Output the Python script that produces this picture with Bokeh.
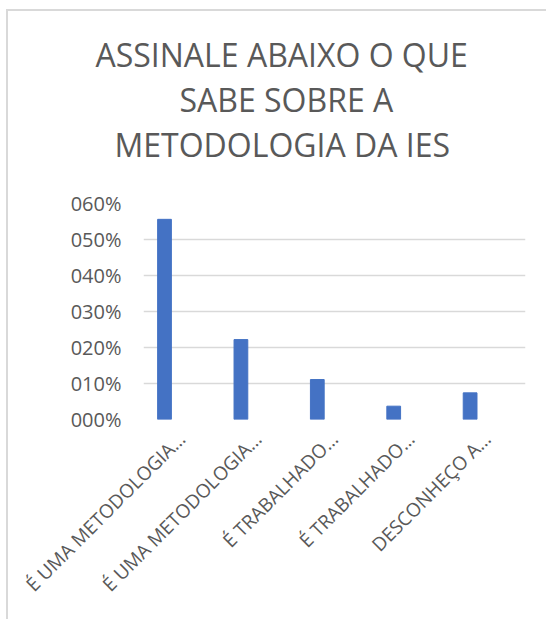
from bokeh.plotting import figure
from bokeh.models import Range1d, FixedTicker, ColumnDataSource, Title
from bokeh.transform import dodge
from bokeh.embed import file_html
from bokeh.resources import INLINE
import math

# ---- data ----
categories = ["É UMA METODOLOGIA…", "É UMA METODOLOGIA…", "É TRABALHADO…",
              "É TRABALHADO…", "DESCONHEÇO A…"]
values = [55.6, 22.2, 11.1, 3.7, 7.4]
y_ticks = [0, 10, 20, 30, 40, 50, 60]
y_tick_labels = ["000%", "010%", "020%", "030%", "040%", "050%", "060%"]
title_lines = ["ASSINALE ABAIXO O QUE", "SABE SOBRE A", "METODOLOGIA  DA IES"]

GRAY_TEXT = "#595959"
GRID = "#d9d9d9"
BAR = "#4472C4"

positions = list(range(len(categories)))
src = ColumnDataSource(dict(x=positions, top=values))

p = figure(width=540, height=610,
           x_range=Range1d(-0.5, len(categories) - 0.5),
           y_range=Range1d(0, 60),
           output_backend="svg", toolbar_location=None,
           min_border_left=135, min_border_right=23,
           min_border_top=192, min_border_bottom=202,
           styles={"margin-left": "6px", "margin-top": "9px",
                   "border-top": "2px solid #d9d9d9",
                   "border-left": "2px solid #d9d9d9"})

p.vbar(x=dodge("x", -0.225, range=p.x_range), top="top", width=0.18,
       source=src, fill_color=BAR, line_color=BAR)

# title: blank spacer panel next to the frame, then three lines centred on
# the whole chart (left-aligned panels with offsets from the frame's left edge)
p.title.visible = False
p.add_layout(Title(text=" ", text_font="Open Sans", text_font_size="26px",
                   standoff=0), "above")
title_offsets = [-48, 36, -29]
for line, off in reversed(list(zip(title_lines, title_offsets))):
    p.add_layout(Title(text=line, align="left", offset=off, standoff=0,
                       text_font="Open Sans", text_font_size="32px",
                       text_font_style="normal", text_color=GRAY_TEXT), "above")

p.outline_line_color = None
p.xgrid.grid_line_color = None
p.ygrid.grid_line_color = GRID
p.ygrid.grid_line_width = 1.5

p.yaxis.ticker = FixedTicker(ticks=y_ticks)
p.yaxis.major_label_overrides = {t: l for t, l in zip(y_ticks, y_tick_labels)}
p.xaxis.ticker = FixedTicker(ticks=positions)
p.xaxis.major_label_overrides = {i: c for i, c in zip(positions, categories)}
p.xaxis.major_label_orientation = math.pi / 4

for ax in (p.xaxis[0], p.yaxis[0]):
    ax.axis_line_color = None
    ax.major_tick_line_color = None
    ax.minor_tick_line_color = None
    ax.major_tick_in = 0
    ax.major_tick_out = 0
    ax.major_label_text_font = "Open Sans"
    ax.major_label_text_color = GRAY_TEXT

p.yaxis.major_label_text_font_size = "20px"
p.yaxis.major_label_standoff = 22
p.xaxis.major_label_text_font_size = "19px"
p.xaxis.major_label_standoff = 16

open("out.html", "w").write(file_html(p, INLINE))
